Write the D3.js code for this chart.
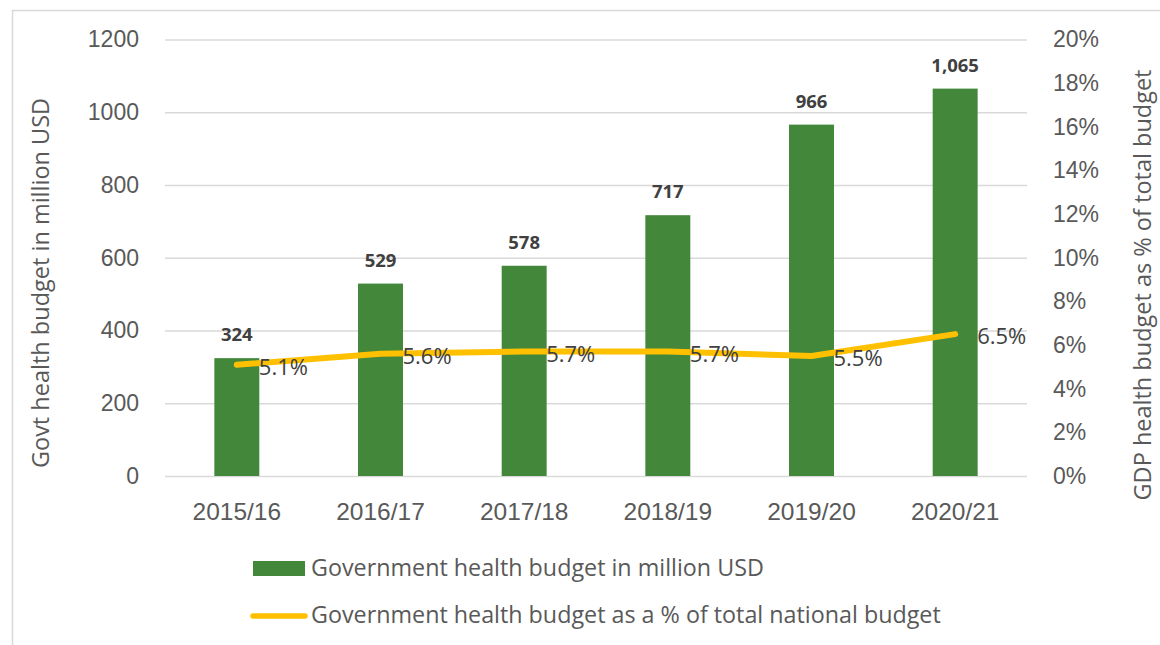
<!DOCTYPE html>
<html>
<head>
<meta charset="utf-8">
<script src="https://cdn.jsdelivr.net/npm/d3@7"></script>
<style>
  html, body { margin: 0; padding: 0; background: #fff; }
  svg { display: block; font-family: "Open Sans", "Noto Sans", sans-serif; }
</style>
</head>
<body>
<svg id="chart" width="1160" height="645"></svg>
<script>
// Fiscal years
const years = ["2015/16", "2016/17", "2017/18", "2018/19", "2019/20", "2020/21"];
// Government health budget, million USD
const budgetUSD = [324, 529, 578, 717, 966, 1065];
// Health budget as share of the total national budget (%)
const budgetShare = [5.1, 5.6, 5.7, 5.7, 5.5, 6.5];
// Axis ticks
const leftTicks = [0, 200, 400, 600, 800, 1000, 1200];
const rightTicks = [0, 2, 4, 6, 8, 10, 12, 14, 16, 18, 20];
// Series names
const seriesNames = [
  "Government health budget in million USD",
  "Government health budget as a % of total national budget"
];

const svg = d3.select("#chart");
const GREEN = "#43873b", GOLD = "#ffc000", GRID = "#d9d9d9";
const TICK = "#595959", LABEL = "#404040";

// outer frame
svg.append("rect")
  .attr("x", 12.5).attr("y", 10.5).attr("width", 1200).attr("height", 700)
  .attr("fill", "none").attr("stroke", GRID).attr("stroke-width", 1.5);

const plot = { left: 165, right: 1027, top: 39.5, bottom: 476 };

const x = d3.scaleBand().domain(years)
  .range([plot.left, plot.right])
  .paddingInner(0.687).paddingOuter(0.687 / 2);
const yL = d3.scaleLinear().domain([0, 1200]).range([plot.bottom, plot.top]);
const yR = d3.scaleLinear().domain([0, 20]).range([plot.bottom, plot.top]);

// gridlines + left axis
const gL = svg.append("g").attr("transform", `translate(${plot.left},0)`)
  .call(d3.axisLeft(yL).tickValues(leftTicks)
    .tickSize(-(plot.right - plot.left)).tickPadding(26).tickFormat(d3.format("d")));
gL.select(".domain").remove();
gL.selectAll(".tick line").attr("stroke", GRID).attr("stroke-width", 1.5);
gL.selectAll(".tick text").attr("fill", TICK).style("font-size", "23px");

// right axis
const gR = svg.append("g").attr("transform", `translate(${plot.right},0)`)
  .call(d3.axisRight(yR).tickValues(rightTicks).tickSize(0).tickPadding(26)
    .tickFormat(d => d + "%"));
gR.select(".domain").remove();
gR.selectAll(".tick text").attr("fill", TICK).style("font-size", "23px");

// category axis
const gX = svg.append("g").attr("transform", `translate(0,${plot.bottom})`)
  .call(d3.axisBottom(x).tickSize(0).tickPadding(27));
gX.select(".domain").remove();
gX.selectAll(".tick text").attr("fill", TICK).style("font-size", "24.5px");

// bars
svg.append("g").selectAll("rect").data(years).join("rect")
  .attr("x", d => x(d))
  .attr("width", x.bandwidth())
  .attr("y", (d, i) => yL(budgetUSD[i]))
  .attr("height", (d, i) => yL(0) - yL(budgetUSD[i]))
  .attr("fill", GREEN);

// bar value labels
svg.append("g").selectAll("text").data(years).join("text")
  .attr("x", d => x(d) + x.bandwidth() / 2)
  .attr("y", (d, i) => yL(budgetUSD[i]) - 17)
  .attr("text-anchor", "middle")
  .attr("fill", LABEL)
  .style("font-size", "18.5px").style("font-weight", "bold")
  .text((d, i) => d3.format(",")(budgetUSD[i]));

// share line
const cx = d => x(d) + x.bandwidth() / 2;
const line = d3.line().x(d => cx(d)).y((d, i) => yR(budgetShare[i]));
svg.append("path").datum(years)
  .attr("d", line)
  .attr("fill", "none").attr("stroke", GOLD)
  .attr("stroke-width", 6).attr("stroke-linecap", "round").attr("stroke-linejoin", "round");

// line value labels
svg.append("g").selectAll("text").data(years).join("text")
  .attr("x", d => cx(d) + 22)
  .attr("y", (d, i) => yR(budgetShare[i]) + 10)
  .attr("fill", LABEL)
  .style("font-size", "22px")
  .text((d, i) => budgetShare[i].toFixed(1) + "%");

// axis titles
svg.append("text")
  .attr("transform", "translate(49,283) rotate(-90)")
  .attr("text-anchor", "middle").attr("fill", TICK).style("font-size", "23.5px")
  .text("Govt health budget in million USD");
svg.append("text")
  .attr("transform", "translate(1151,285) rotate(-90)")
  .attr("text-anchor", "middle").attr("fill", TICK).style("font-size", "23.5px")
  .text("GDP health budget as % of total budget");

// legend
const lg = svg.append("g");
lg.append("rect").attr("x", 253).attr("y", 561).attr("width", 52).attr("height", 15).attr("fill", GREEN);
lg.append("text").attr("x", 311).attr("y", 568).attr("dy", "0.35em")
  .attr("fill", TICK).style("font-size", "23.3px").text(seriesNames[0]);
lg.append("line").attr("x1", 253).attr("x2", 305).attr("y1", 616).attr("y2", 616)
  .attr("stroke", GOLD).attr("stroke-width", 5.5).attr("stroke-linecap", "round");
lg.append("text").attr("x", 311).attr("y", 615).attr("dy", "0.35em")
  .attr("fill", TICK).style("font-size", "23.3px").text(seriesNames[1]);
</script>
</body>
</html>
